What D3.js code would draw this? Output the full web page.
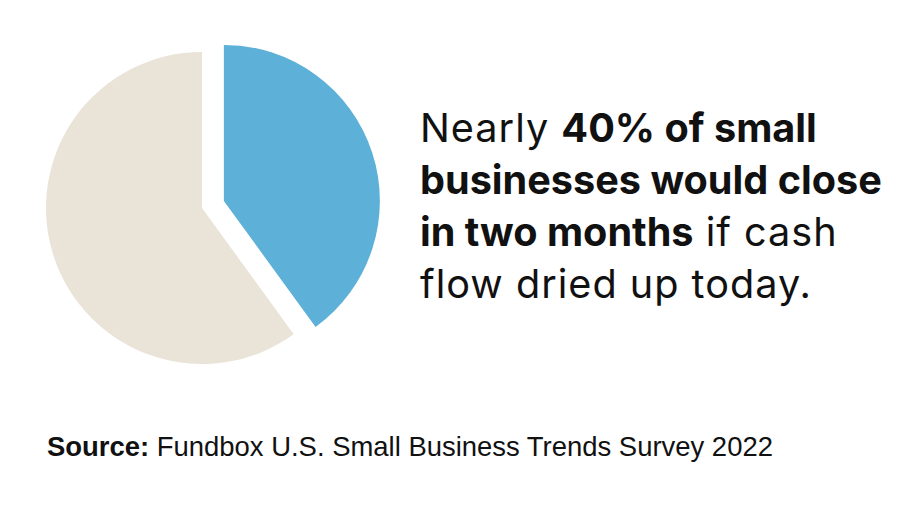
<!DOCTYPE html>
<html>
<head>
<meta charset="utf-8">
<script src="https://cdn.jsdelivr.net/npm/d3@7"></script>
<style>
  html, body { margin: 0; padding: 0; background: #fff; }
  svg { display: block; font-family: Inter, "Noto Sans", sans-serif; }
</style>
</head>
<body>
<svg id="chart" width="920" height="512"></svg>
<script>
// Survey share: businesses that would close within two months vs the rest
const categories = ["Would close in two months", "Would not"];
const shares = [40, 60];
const sliceColors = ["#5db0d7", "#eae3d8"];

// Headline, split into lines of [text, bold] runs
const headline = [
  [["Nearly ", false], ["40% of small", true]],
  [["businesses would close", true]],
  [["in two months", true], [" if cash", false]],
  [["flow dried up today.", false]],
];
const sourceLabel = "Source:";
const sourceText = " Fundbox U.S. Small Business Trends Survey 2022";

const W = 920, H = 512;
const R = 156;
const CX = 202, CY = 208;
const EXPLODE = 23;

const svg = d3.select("#chart");
svg.append("rect").attr("width", W).attr("height", H).attr("fill", "#fff");

const pie = d3.pie().sort(null).value((d) => d)(shares);
const arc = d3.arc().innerRadius(0).outerRadius(R);

const pieG = svg.append("g").attr("transform", `translate(${CX},${CY})`);
pieG.selectAll("path")
  .data(pie)
  .join("path")
  .attr("d", arc)
  .attr("fill", (d, i) => sliceColors[i])
  .attr("transform", (d, i) => {
    if (i !== 0) return null;
    // pull the highlighted slice out along its bisector
    const a = (d.startAngle + d.endAngle) / 2;
    return `translate(${EXPLODE * Math.sin(a)},${-EXPLODE * Math.cos(a)})`;
  })
  .append("title").text((d, i) => `${categories[i]}: ${d.value}%`);

// Headline text
const textG = svg.append("g").attr("fill", "#111");
const lines = headline.map((line, li) => {
  const t = textG.append("text")
    .attr("x", 420)
    .attr("y", 142 + li * 52)
    .attr("font-size", 37);
  line.forEach(([s, bold]) => {
    t.append("tspan")
      .attr("font-weight", bold ? 700 : 400)
      .attr("letter-spacing", bold ? null : 1)
      .text(s);
  });
  return t;
});
// the widest line spans 420..882 in the original, size the type to suit
const hw = lines[1].node().getComputedTextLength();
textG.selectAll("text").attr("font-size", 37 * 462 / hw);

// Source line
const src = svg.append("text")
  .attr("x", 47)
  .attr("y", 456)
  .attr("font-family", "'Liberation Sans', Arial, sans-serif")
  .attr("font-size", 23)
  .attr("fill", "#111");
src.append("tspan").attr("font-weight", 700).text(sourceLabel);
src.append("tspan").attr("font-weight", 400).text(sourceText);
const sw = src.node().getComputedTextLength();
src.attr("font-size", 23 * 726 / sw);
</script>
</body>
</html>
